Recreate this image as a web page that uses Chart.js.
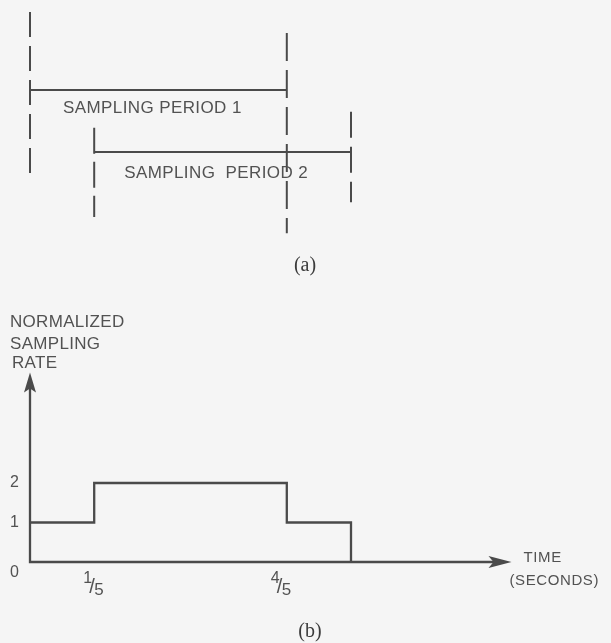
<!DOCTYPE html>
<html>
<head>
<meta charset="utf-8">
<script src="https://cdn.jsdelivr.net/npm/chart.js@4/dist/chart.umd.min.js"></script>
<style>
  html, body { margin: 0; padding: 0; background: #f5f5f5; overflow: hidden; }
  canvas { display: block; }
</style>
</head>
<body>
<canvas id="c" width="611" height="643"></canvas>
<script>
// (a) overlapping sampling periods, in seconds
const periodNames = ['SAMPLING PERIOD 1', 'SAMPLING  PERIOD 2'];
const periodStart = [0, 0.2];
const periodEnd = [0.8, 1.0];

// (b) normalized sampling rate, held between the step times
const stepTimes = [0, 0.2, 0.8, 1.0];
const rateValues = [1, 2, 1, 0];
const rateTicks = [0, 1, 2];
const timeTicks = [0.2, 0.8];
const timeTickLabels = ['1/5', '4/5'];
const timeAxisEnd = 1.5;
const rateAxisEnd = 4.8;
const rateTitle = ['NORMALIZED', 'SAMPLING', 'RATE'];
const timeTitle = ['TIME', '(SECONDS)'];
const panelLabels = ['(a)', '(b)'];

// drawing style
const INK = '#4a4a4a';
const TEXT = '#525252';
const SANS = '"Liberation Sans", Arial, sans-serif';
const SERIF = '"Liberation Serif", "Times New Roman", serif';
// how far each dashed boundary reaches above / below its period's row (row units)
const boundaryReach = [
  [[1.26, 1.34], [0.92, 2.31]],
  [[0.39, 1.05], [0.65, 0.81]]
];
const boundaryDash = [
  [[25, 9], [28, 9]],
  [[26, 8], [26, 9]]
];

const datasets = [];
periodStart.forEach((s, i) => {
  const row = i + 1;
  datasets.push({
    data: [{ x: s, y: row }, { x: periodEnd[i], y: row }],
    yAxisID: 'yRow', borderColor: INK, borderWidth: 1.9
  });
  [s, periodEnd[i]].forEach((t, k) => {
    const [up, down] = boundaryReach[i][k];
    datasets.push({
      data: [{ x: t, y: row - up }, { x: t, y: row + down }],
      yAxisID: 'yRow', borderColor: INK, borderWidth: 2,
      borderDash: boundaryDash[i][k]
    });
  });
});
datasets.push({
  data: stepTimes.map((t, i) => ({ x: t, y: rateValues[i] })),
  yAxisID: 'y', borderColor: INK, borderWidth: 2.3, stepped: 'before'
});

function spaced(ctx, spacing) {
  if ('letterSpacing' in ctx) ctx.letterSpacing = spacing + 'px';
}

const diagramText = {
  id: 'diagramText',
  beforeDraw(chart) {
    const ctx = chart.ctx;
    ctx.save();
    ctx.fillStyle = '#f5f5f5';
    ctx.fillRect(0, 0, chart.width, chart.height);
    ctx.restore();
  },
  afterDatasetsDraw(chart) {
    const ctx = chart.ctx;
    const xs = chart.scales.x, ys = chart.scales.y, rs = chart.scales.yRow;
    const x0 = xs.getPixelForValue(0), y0 = ys.getPixelForValue(0);
    const xEnd = xs.getPixelForValue(timeAxisEnd), yEnd = ys.getPixelForValue(rateAxisEnd);
    ctx.save();

    // axes of (b)
    ctx.strokeStyle = INK; ctx.fillStyle = INK; ctx.lineWidth = 2.3;
    ctx.beginPath();
    ctx.moveTo(x0, yEnd + 14); ctx.lineTo(x0, y0); ctx.lineTo(xEnd - 16, y0);
    ctx.stroke();
    // arrowheads
    ctx.beginPath();
    ctx.moveTo(x0, yEnd); ctx.lineTo(x0 + 6, yEnd + 20); ctx.lineTo(x0, yEnd + 16);
    ctx.lineTo(x0 - 6, yEnd + 20); ctx.closePath(); ctx.fill();
    ctx.beginPath();
    ctx.moveTo(xEnd, y0); ctx.lineTo(xEnd - 23, y0 - 6); ctx.lineTo(xEnd - 18, y0);
    ctx.lineTo(xEnd - 23, y0 + 6); ctx.closePath(); ctx.fill();

    ctx.fillStyle = TEXT;
    ctx.textAlign = 'left'; ctx.textBaseline = 'alphabetic';

    // period labels of (a)
    ctx.font = '17px ' + SANS; spaced(ctx, 0.4);
    periodNames.forEach((name, i) => {
      const px = xs.getPixelForValue(periodStart[i]);
      const py = rs.getPixelForValue(i + 1);
      ctx.fillText(name, px + (i === 0 ? 33 : 30), py + (i === 0 ? 23 : 26));
    });

    // rate axis title
    ctx.font = '17px ' + SANS; spaced(ctx, 0.3);
    rateTitle.forEach((line, i) => {
      const base = [-45, -23, -4][i];
      ctx.fillText(line, x0 - (i === 2 ? 18 : 20), yEnd + base);
    });

    // time axis title
    ctx.font = '15px ' + SANS; spaced(ctx, 0.6);
    ctx.fillText(timeTitle[0], xEnd + 12, y0);
    ctx.fillText(timeTitle[1], xEnd - 2, y0 + 23);

    // rate ticks
    ctx.font = '16px ' + SANS; spaced(ctx, 0);
    ctx.textAlign = 'right'; ctx.textBaseline = 'middle';
    rateTicks.forEach(v => {
      const py = ys.getPixelForValue(v) + (v === 0 ? 11 : 0);
      ctx.fillText(String(v), x0 - 11, py);
    });

    // time ticks as stacked fractions
    ctx.textAlign = 'left'; ctx.textBaseline = 'alphabetic';
    timeTicks.forEach((t, i) => {
      const [num, den] = timeTickLabels[i].split('/');
      const cx = xs.getPixelForValue(t) - (i === 0 ? 1 : 6);
      ctx.font = '16px ' + SANS;
      ctx.fillText(num, cx - 10, y0 + 21);
      ctx.font = '20px ' + SANS;
      ctx.fillText('/', cx - 4, y0 + 31);
      ctx.font = '17px ' + SANS;
      ctx.fillText(den, cx + 1, y0 + 33);
    });

    // panel captions
    ctx.font = '20px ' + SERIF;
    ctx.textAlign = 'center'; ctx.textBaseline = 'middle';
    ctx.fillStyle = '#3c3c3c';
    ctx.fillText(panelLabels[0], 305, 266);
    ctx.fillText(panelLabels[1], 310, 632);
    ctx.restore();
  }
};

new Chart(document.getElementById('c'), {
  type: 'scatter',
  data: { datasets: datasets.map(d => Object.assign({ showLine: true, pointRadius: 0, fill: false }, d)) },
  options: {
    responsive: false,
    animation: false,
    devicePixelRatio: 1,
    layout: { padding: 0 },
    plugins: { legend: { display: false }, tooltip: { enabled: false } },
    scales: {
      x: { type: 'linear', min: -30 / 321, max: 581 / 321, display: false },
      y: { type: 'linear', min: -81 / 39.5, max: 562 / 39.5, display: false },
      yRow: { type: 'linear', axis: 'y', position: 'left', reverse: true,
              min: -28 / 62, max: 615 / 62, display: false }
    }
  },
  plugins: [diagramText]
});
</script>
</body>
</html>
